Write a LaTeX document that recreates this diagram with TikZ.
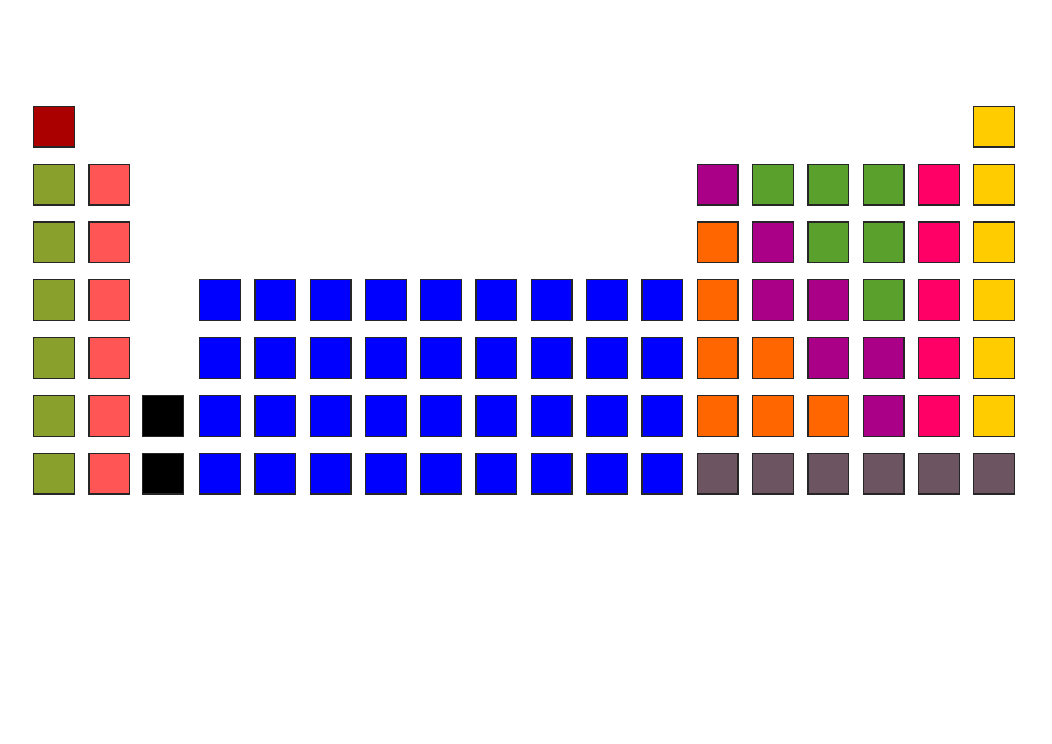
\documentclass[tikz,border=0pt]{standalone}
\definecolor{hydro}{HTML}{AA0000}
\definecolor{alkali}{HTML}{89A02C}
\definecolor{earth}{HTML}{FF5555}
\definecolor{rare}{HTML}{000000}
\definecolor{trans}{HTML}{0000FF}
\definecolor{metal}{HTML}{FF6600}
\definecolor{metalloid}{HTML}{AA0088}
\definecolor{nonmetal}{HTML}{5AA02C}
\definecolor{halogen}{HTML}{FF0066}
\definecolor{noble}{HTML}{FFCC00}
\definecolor{unknown}{HTML}{6C5460}

\begin{document}
\begin{tikzpicture}[x=1pt,y=-1pt,
  elem/.style={draw=black!85,line width=1.3pt,minimum size=40.7pt,inner sep=0pt}]
\useasboundingbox (0,0) rectangle (1052,744);
% ---------- s-block ----------
\node[elem,fill=hydro] (e1-1) at (54,126.7) {};
\foreach \r in {2,...,7}{
  \node[elem,fill=alkali] (e\r-1) at (54,{126.7+(\r-1)*57.83}) {};
  \node[elem,fill=earth] (e\r-2) at ({54+55.3},{126.7+(\r-1)*57.83}) {};
}
% lanthanide / actinide placeholders
\foreach \r in {6,7}
  \node[elem,fill=rare] (e\r-3) at (163,{126.7+(\r-1)*57.83}) {};
% ---------- d-block ----------
\foreach \r in {4,...,7}
  \foreach \c in {4,...,12}
    \node[elem,fill=trans] (e\r-\c) at ({54+(\c-1)*55.3},{126.7+(\r-1)*57.83}) {};
% ---------- p-block ----------
\foreach \r/\c/\f in {2/13/metalloid,2/14/nonmetal,2/15/nonmetal,2/16/nonmetal,
    3/13/metal,3/14/metalloid,3/15/nonmetal,3/16/nonmetal,
    4/13/metal,4/14/metalloid,4/15/metalloid,4/16/nonmetal,
    5/13/metal,5/14/metal,5/15/metalloid,5/16/metalloid,
    6/13/metal,6/14/metal,6/15/metal,6/16/metalloid}
  \node[elem,fill=\f] (e\r-\c) at ({54+(\c-1)*55.3},{126.7+(\r-1)*57.83}) {};
% halogens and noble gases
\foreach \r in {2,...,6}
  \node[elem,fill=halogen] (e\r-17) at ({54+16*55.3},{126.7+(\r-1)*57.83}) {};
\foreach \r in {1,...,6}
  \node[elem,fill=noble] (e\r-18) at ({54+17*55.3},{126.7+(\r-1)*57.83}) {};
% period 7, unknown properties
\foreach \c in {13,...,18}
  \node[elem,fill=unknown] (e7-\c) at ({54+(\c-1)*55.3},{126.7+6*57.83}) {};
\end{tikzpicture}
\end{document}
